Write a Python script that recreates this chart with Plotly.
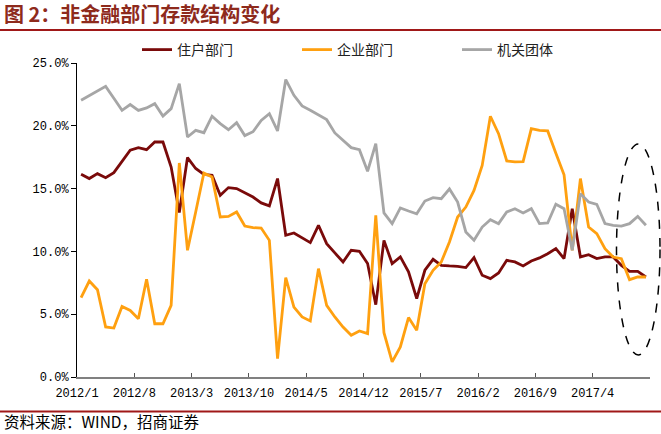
import plotly.graph_objects as go

# Categories: monthly, 2012/1 .. 2017/10
months = [f"{y}/{m}" for y in range(2012, 2018) for m in range(1, 13)][:70]
tick_labels = ["2012/1", "2012/8", "2013/3", "2013/10", "2014/5", "2014/12",
               "2015/7", "2016/2", "2016/9", "2017/4", ""]

household = [16.14, 15.80, 16.19, 15.87, 16.27, 17.17, 18.05, 18.26, 18.10, 18.71,
             18.71, 16.72, 13.10, 17.47, 16.60, 16.14, 16.06, 14.47, 15.08, 15.00,
             14.68, 14.33, 13.86, 13.62, 15.80, 11.28, 11.47, 11.10, 10.70, 12.08,
             10.62, 9.88, 9.16, 10.09, 10.01, 9.03, 5.76, 10.88, 9.03, 9.56,
             8.37, 6.25, 8.50, 9.37, 8.89, 8.84, 8.81, 8.71, 9.50, 8.10,
             7.83, 8.28, 9.29, 9.16, 8.84, 9.24, 9.48, 9.82, 10.22, 9.43,
             13.40, 9.56, 9.74, 9.43, 9.56, 9.56, 8.89, 8.41, 8.41, 7.96]

enterprise = [6.32, 7.64, 6.95, 3.98, 3.90, 5.62, 5.30, 4.64, 7.78, 4.24,
              4.24, 5.70, 17.04, 10.09, 13.14, 16.24, 15.92, 12.74, 12.79, 13.14,
              12.02, 11.89, 11.86, 10.88, 1.46, 7.91, 5.57, 4.78, 4.46, 8.63,
              5.70, 4.78, 3.98, 3.32, 3.66, 3.45, 12.88, 3.53, 1.20, 2.39,
              4.73, 3.72, 7.43, 8.49, 9.16, 10.75, 12.74, 13.53, 14.86, 16.85,
              20.76, 19.37, 17.20, 17.12, 17.15, 19.78, 19.64, 19.59, 17.81, 16.10,
              10.09, 15.80, 11.94, 11.41, 10.22, 9.55, 9.42, 7.75, 7.96, 7.96]

government = [22.03, 22.40, 22.77, 23.14, 22.19, 21.23, 21.69, 21.23, 21.42, 21.76,
              20.78, 21.37, 23.36, 19.11, 19.64, 19.45, 20.76, 20.17, 19.69, 20.25,
              19.22, 19.53, 20.43, 20.97, 19.59, 23.68, 22.43, 21.58, 21.23, 20.89,
              20.49, 19.43, 18.85, 18.26, 18.10, 16.38, 18.58, 13.06, 12.21, 13.46,
              13.22, 13.00, 14.01, 14.28, 14.20, 14.97, 13.93, 11.55, 10.88, 11.94,
              12.53, 12.21, 13.14, 13.40, 13.06, 13.40, 12.21, 12.26, 13.75, 13.40,
              10.09, 14.60, 13.93, 13.75, 12.21, 12.08, 12.02, 12.21, 12.79, 12.08]

series_names = ["住户部门", "企业部门", "机关团体"]
series_colors = ["#7A0A0A", "#FFA010", "#A6A6A6"]

W, H = 661, 434
L, R, T, B = 77, 11, 63, 57
PW, PH = W - L - R, H - T - B


def px_x(px):
    return (px - L) / PW


def px_y(py):
    return (H - B - py) / PH


idx = list(range(len(months)))
fig = go.Figure()
for name, vals, col in zip(series_names, [household, enterprise, government], series_colors):
    fig.add_trace(go.Scatter(x=idx, y=vals, mode="lines", name=name,
                             customdata=months,
                             hovertemplate="%{customdata}: %{y:.1f}%<extra>" + name + "</extra>",
                             line=dict(color=col, width=2.8)))

fig.update_layout(
    width=W, height=H,
    margin=dict(l=L, r=R, t=T, b=B),
    paper_bgcolor="white", plot_bgcolor="white",
    font=dict(family="Liberation Mono, monospace", size=12, color="black"),
    showlegend=True,
    legend=dict(orientation="h", x=px_x(137), y=px_y(50), xanchor="left", yanchor="middle",
                entrywidth=115, entrywidthmode="pixels",
                font=dict(family="Noto Sans CJK SC", size=14, color="#222"),
                bgcolor="rgba(0,0,0,0)"),
    xaxis=dict(range=[-0.5, len(months) - 0.5],
               tickmode="array",
               tickvals=[k * 7 - 0.5 for k in range(len(tick_labels))],
               ticktext=tick_labels,
               showgrid=False, zeroline=False,
               showline=True, linecolor="#808080", linewidth=2,
               ticks="inside", ticklen=4, tickcolor="#555", tickwidth=1,
               ticklabelstandoff=4,
               tickfont=dict(family="Liberation Mono, monospace", size=12, color="black")),
    yaxis=dict(range=[0, 25], tickmode="array", tickvals=[0, 5, 10, 15, 20, 25],
               ticktext=["0.0%", "5.0%", "10.0%", "15.0%", "20.0%", "25.0%"],
               showgrid=False, zeroline=False,
               showline=True, linecolor="black", linewidth=1,
               ticks="outside", ticklen=5, tickcolor="black", tickwidth=1,
               tickfont=dict(family="Liberation Mono, monospace", size=12, color="black")),
)

# Title
fig.add_annotation(text="<b>图 2：非金融部门存款结构变化</b>", xref="paper", yref="paper",
                   x=px_x(2), y=px_y(14), xanchor="left", yanchor="middle", showarrow=False,
                   font=dict(family="Noto Sans CJK SC", size=20, color="#8E2A1C"))
# Footer
fig.add_annotation(text="资料来源：WIND，招商证券", xref="paper", yref="paper",
                   x=px_x(2), y=px_y(421), xanchor="left", yanchor="middle", showarrow=False,
                   font=dict(family="Noto Sans CJK SC", size=15.5, color="black"))
# Header / footer rules
for py in (30, 411.5):
    fig.add_shape(type="line", xref="paper", yref="paper",
                  x0=px_x(0), x1=px_x(W), y0=px_y(py), y1=px_y(py),
                  line=dict(color="#A01818", width=2))
# Dashed ellipse highlight
fig.add_shape(type="circle", xref="paper", yref="paper",
              x0=px_x(616.5), x1=px_x(660), y0=px_y(355), y1=px_y(144),
              line=dict(color="black", width=1.5, dash="dash"))

fig.write_html("out.html")
